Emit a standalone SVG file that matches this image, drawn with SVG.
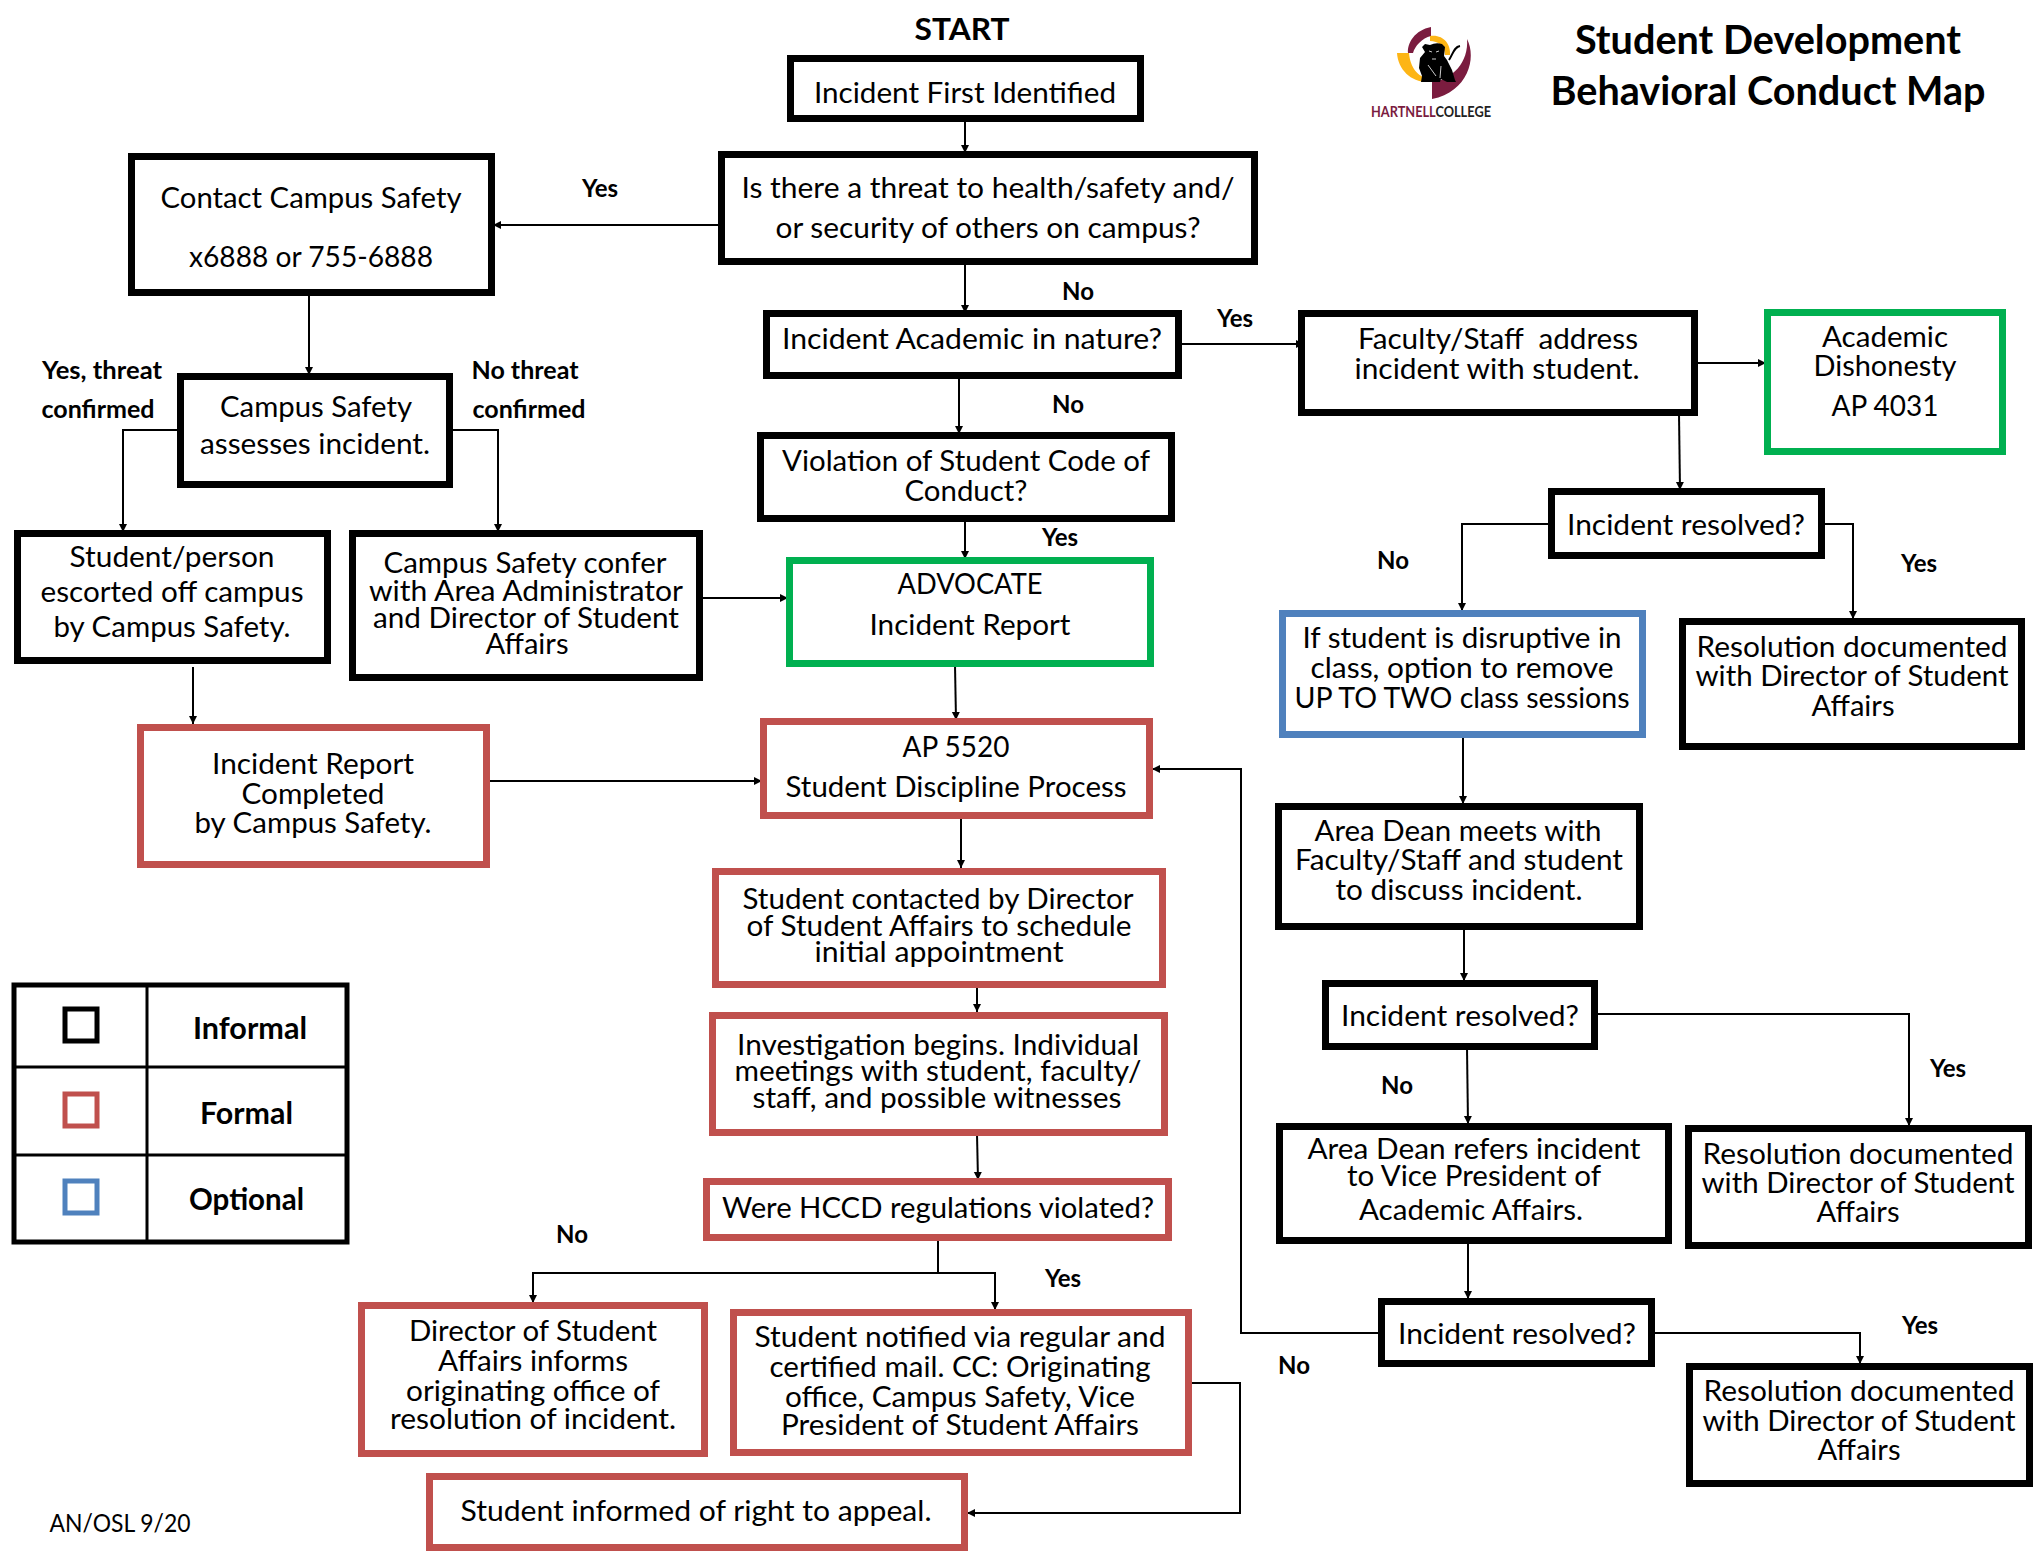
<svg xmlns="http://www.w3.org/2000/svg" width="2039" height="1551" viewBox="0 0 2039 1551">
<style>
text{font-family:"Lato","Carlito","Open Sans",sans-serif;fill:#000;text-anchor:middle}
.n{font-size:29px}
.b{font-size:24px;font-weight:700}
.l{font-size:30px;font-weight:700}
.h{font-size:40px;font-weight:700}
rect.k,rect.r,rect.u,rect.g{fill:#fff;stroke-width:7}
.k{stroke:#000}.r{stroke:#c0504d}.u{stroke:#4f81bd}.g{stroke:#00b050}
.c path{fill:none;stroke:#000;stroke-width:2}
.c path.a{marker-end:url(#ah)}
</style>
<defs><marker id="ah" markerUnits="userSpaceOnUse" markerWidth="9" markerHeight="9" refX="8" refY="4" orient="auto"><path d="M0 0L8 4L0 8Z" fill="#000"/></marker></defs>
<rect width="2039" height="1551" fill="#fff"/>
<g id="connectors" class="c">
<path class="a" d="M965 120V153"/>
<path class="a" d="M718 225H493"/>
<path class="a" d="M965 263V313"/>
<path class="a" d="M309 294V375"/>
<path class="a" d="M1180 344H1304"/>
<path class="a" d="M959 377V434"/>
<path class="a" d="M1696 363H1766"/>
<path class="a" d="M1679 414L1680 490"/>
<path class="a" d="M179 430H123V532"/>
<path class="a" d="M451 430H498V532"/>
<path class="a" d="M965 520V559"/>
<path class="a" d="M701 598H788"/>
<path class="a" d="M955 665L956 720"/>
<path class="a" d="M193 667V724"/>
<path class="a" d="M488 781H762"/>
<path class="a" d="M961 817V868"/>
<path class="a" d="M977 986V1012"/>
<path class="a" d="M977 1134L978 1180"/>
<path d="M938 1239V1273"/>
<path class="a" d="M938 1273H533V1303"/>
<path class="a" d="M938 1273H995V1310"/>
<path class="a" d="M1550 524H1462V611"/>
<path class="a" d="M1823 524H1853V619"/>
<path class="a" d="M1463 736V804"/>
<path class="a" d="M1464 928V981"/>
<path class="a" d="M1467 1048L1468 1124"/>
<path class="a" d="M1596 1014H1909V1126"/>
<path class="a" d="M1468 1242V1299"/>
<path class="a" d="M1380 1333H1241V769H1152"/>
<path class="a" d="M1653 1333H1860V1364"/>
<path class="a" d="M1190 1383H1240V1513H967"/>
</g>
<g id="start"><text class="l" x="962" y="40" textLength="95" lengthAdjust="spacingAndGlyphs">START</text></g>
<g id="title">
<text class="h" x="1768" y="54" textLength="386" lengthAdjust="spacingAndGlyphs">Student Development</text>
<text class="h" x="1768" y="105" textLength="435" lengthAdjust="spacingAndGlyphs">Behavioral Conduct Map</text>
</g>
<g id="logo">
<path fill="#7b1c3f" d="M1431 27C1415 30 1407 43 1408 53H1413C1415 46 1422 38 1431 36Z"/>
<path fill="#fdb515" d="M1430 36C1443 34 1451 44 1450 55L1445 55C1445 46 1438 41 1430 41Z"/>
<path fill="#fdb515" d="M1397 53L1409 53C1410 67 1418 78 1429 78L1429 82C1412 83 1398 70 1397 53Z"/>
<path fill="#7b1c3f" d="M1467 39C1477 58 1468 92 1432 99L1432 82C1452 80 1469 62 1467 39Z"/>
<path fill="#000" d="M1422 47L1425 44L1430 45Q1436 42 1442 44L1445 47L1444 56L1447 60L1452 70L1455 80L1456 82L1447 82L1441 79L1440 82L1421 82L1422 76L1419 68L1420 58L1425 52Z"/>
<path fill="none" stroke="#000" stroke-width="2" d="M1449 60C1453 54 1454 47 1460 46"/>
<path fill="none" stroke="#fff" stroke-width="0.8" d="M1429 51L1432 52M1439 51L1436 52M1432 59H1436M1428 65L1436 76M1441 66L1440 78"/>
<text x="1431" y="117" style="font-size:14.5px;font-weight:700" textLength="120" lengthAdjust="spacingAndGlyphs"><tspan fill="#7b1c3f">HARTNELL</tspan><tspan fill="#222">COLLEGE</tspan></text>
</g>
<g id="n-first"><rect class="k" x="790.5" y="58.5" width="350" height="60"/><text class="n" x="965" y="103" textLength="302" lengthAdjust="spacingAndGlyphs">Incident First Identified</text></g>
<g id="n-threat"><rect class="k" x="721.5" y="154.5" width="533" height="107"/><text class="n" x="988" y="198" textLength="493" lengthAdjust="spacingAndGlyphs">Is there a threat to health/safety and/</text><text class="n" x="988" y="238" textLength="425" lengthAdjust="spacingAndGlyphs">or security of others on campus?</text></g>
<g id="n-contact"><rect class="k" x="131.5" y="156.5" width="360" height="136"/><text class="n" x="311" y="208" textLength="301" lengthAdjust="spacingAndGlyphs">Contact Campus Safety</text><text class="n" x="311" y="267" textLength="244" lengthAdjust="spacingAndGlyphs">x6888 or 755-6888</text></g>
<g id="n-academic"><rect class="k" x="766.5" y="313.5" width="412" height="62"/><text class="n" x="972" y="349" textLength="380" lengthAdjust="spacingAndGlyphs">Incident Academic in nature?</text></g>
<g id="n-faculty"><rect class="k" x="1301.5" y="313.5" width="393" height="99"/><text class="n" x="1498" y="349" textLength="280" lengthAdjust="spacingAndGlyphs" xml:space="preserve">Faculty/Staff  address</text><text class="n" x="1497" y="379" textLength="285" lengthAdjust="spacingAndGlyphs">incident with student.</text></g>
<g id="n-dishonesty"><rect class="g" x="1767.5" y="312.5" width="235" height="139"/><text class="n" x="1885" y="347" textLength="126" lengthAdjust="spacingAndGlyphs">Academic</text><text class="n" x="1885" y="376" textLength="143" lengthAdjust="spacingAndGlyphs">Dishonesty</text><text class="n" x="1885" y="416" textLength="107" lengthAdjust="spacingAndGlyphs">AP 4031</text></g>
<g id="n-assess"><rect class="k" x="180.5" y="376.5" width="269" height="108"/><text class="n" x="316" y="417" textLength="192" lengthAdjust="spacingAndGlyphs">Campus Safety</text><text class="n" x="315" y="454" textLength="230" lengthAdjust="spacingAndGlyphs">assesses incident.</text></g>
<g id="n-violation"><rect class="k" x="760.5" y="435.5" width="411" height="83"/><text class="n" x="966" y="471" textLength="368" lengthAdjust="spacingAndGlyphs">Violation of Student Code of</text><text class="n" x="966" y="501" textLength="123" lengthAdjust="spacingAndGlyphs">Conduct?</text></g>
<g id="n-escort"><rect class="k" x="17.5" y="533.5" width="310" height="127"/><text class="n" x="172" y="567" textLength="205" lengthAdjust="spacingAndGlyphs">Student/person</text><text class="n" x="172" y="602" textLength="263" lengthAdjust="spacingAndGlyphs">escorted off campus</text><text class="n" x="172" y="637" textLength="237" lengthAdjust="spacingAndGlyphs">by Campus Safety.</text></g>
<g id="n-confer"><rect class="k" x="352.5" y="533.5" width="347" height="144"/><text class="n" x="525" y="573" textLength="283" lengthAdjust="spacingAndGlyphs">Campus Safety confer</text><text class="n" x="526" y="601" textLength="314" lengthAdjust="spacingAndGlyphs">with Area Administrator</text><text class="n" x="526" y="628" textLength="306" lengthAdjust="spacingAndGlyphs">and Director of Student</text><text class="n" x="527" y="654" textLength="83" lengthAdjust="spacingAndGlyphs">Affairs</text></g>
<g id="n-advocate"><rect class="g" x="789.5" y="560.5" width="361" height="103"/><text class="n" x="970" y="594" textLength="145" lengthAdjust="spacingAndGlyphs">ADVOCATE</text><text class="n" x="970" y="635" textLength="201" lengthAdjust="spacingAndGlyphs">Incident Report</text></g>
<g id="n-resolved1"><rect class="k" x="1551.5" y="491.5" width="270" height="64"/><text class="n" x="1686" y="535" textLength="238" lengthAdjust="spacingAndGlyphs">Incident resolved?</text></g>
<g id="n-remove"><rect class="u" x="1282.5" y="613.5" width="360" height="121"/><text class="n" x="1462" y="648" textLength="319" lengthAdjust="spacingAndGlyphs">If student is disruptive in</text><text class="n" x="1462" y="678" textLength="303" lengthAdjust="spacingAndGlyphs">class, option to remove</text><text class="n" x="1462" y="708" textLength="335" lengthAdjust="spacingAndGlyphs">UP TO TWO class sessions</text></g>
<g id="n-doc1"><rect class="k" x="1682.5" y="621.5" width="339" height="125"/><text class="n" x="1852" y="657" textLength="311" lengthAdjust="spacingAndGlyphs">Resolution documented</text><text class="n" x="1852" y="686" textLength="313" lengthAdjust="spacingAndGlyphs">with Director of Student</text><text class="n" x="1853" y="716" textLength="83" lengthAdjust="spacingAndGlyphs">Affairs</text></g>
<g id="n-report"><rect class="r" x="140.5" y="727.5" width="346" height="137"/><text class="n" x="313" y="774" textLength="202" lengthAdjust="spacingAndGlyphs">Incident Report</text><text class="n" x="313" y="804" textLength="143" lengthAdjust="spacingAndGlyphs">Completed</text><text class="n" x="313" y="833" textLength="237" lengthAdjust="spacingAndGlyphs">by Campus Safety.</text></g>
<g id="n-ap5520"><rect class="r" x="763.5" y="721.5" width="386" height="94"/><text class="n" x="956" y="757" textLength="107" lengthAdjust="spacingAndGlyphs">AP 5520</text><text class="n" x="956" y="797" textLength="341" lengthAdjust="spacingAndGlyphs">Student Discipline Process</text></g>
<g id="n-dean"><rect class="k" x="1278.5" y="806.5" width="361" height="120"/><text class="n" x="1458" y="841" textLength="287" lengthAdjust="spacingAndGlyphs">Area Dean meets with</text><text class="n" x="1459" y="870" textLength="328" lengthAdjust="spacingAndGlyphs">Faculty/Staff and student</text><text class="n" x="1459" y="900" textLength="247" lengthAdjust="spacingAndGlyphs">to discuss incident.</text></g>
<g id="n-contacted"><rect class="r" x="715.5" y="871.5" width="447" height="113"/><text class="n" x="938" y="909" textLength="391" lengthAdjust="spacingAndGlyphs">Student contacted by Director</text><text class="n" x="939" y="936" textLength="385" lengthAdjust="spacingAndGlyphs">of Student Affairs to schedule</text><text class="n" x="939" y="962" textLength="249" lengthAdjust="spacingAndGlyphs">initial appointment</text></g>
<g id="n-investigation"><rect class="r" x="712.5" y="1015.5" width="452" height="117"/><text class="n" x="938" y="1055" textLength="402" lengthAdjust="spacingAndGlyphs">Investigation begins. Individual</text><text class="n" x="938" y="1081" textLength="407" lengthAdjust="spacingAndGlyphs">meetings with student, faculty/</text><text class="n" x="937" y="1108" textLength="369" lengthAdjust="spacingAndGlyphs">staff, and possible witnesses</text></g>
<g id="n-resolved2"><rect class="k" x="1325.5" y="983.5" width="269" height="63"/><text class="n" x="1460" y="1026" textLength="238" lengthAdjust="spacingAndGlyphs">Incident resolved?</text></g>
<g id="n-refers"><rect class="k" x="1279.5" y="1126.5" width="389" height="114"/><text class="n" x="1474" y="1159" textLength="333" lengthAdjust="spacingAndGlyphs">Area Dean refers incident</text><text class="n" x="1474" y="1186" textLength="254" lengthAdjust="spacingAndGlyphs">to Vice President of</text><text class="n" x="1471" y="1220" textLength="224" lengthAdjust="spacingAndGlyphs">Academic Affairs.</text></g>
<g id="n-doc2"><rect class="k" x="1688.5" y="1128.5" width="340" height="117"/><text class="n" x="1858" y="1164" textLength="311" lengthAdjust="spacingAndGlyphs">Resolution documented</text><text class="n" x="1858" y="1193" textLength="313" lengthAdjust="spacingAndGlyphs">with Director of Student</text><text class="n" x="1858" y="1222" textLength="83" lengthAdjust="spacingAndGlyphs">Affairs</text></g>
<g id="n-hccd"><rect class="r" x="706.5" y="1181.5" width="462" height="56"/><text class="n" x="938" y="1218" textLength="432" lengthAdjust="spacingAndGlyphs">Were HCCD regulations violated?</text></g>
<g id="n-director"><rect class="r" x="361.5" y="1305.5" width="343" height="148"/><text class="n" x="533" y="1341" textLength="248" lengthAdjust="spacingAndGlyphs">Director of Student</text><text class="n" x="533" y="1371" textLength="190" lengthAdjust="spacingAndGlyphs">Affairs informs</text><text class="n" x="533" y="1401" textLength="254" lengthAdjust="spacingAndGlyphs">originating office of</text><text class="n" x="533" y="1429" textLength="286" lengthAdjust="spacingAndGlyphs">resolution of incident.</text></g>
<g id="n-notified"><rect class="r" x="733.5" y="1312.5" width="455" height="140"/><text class="n" x="960" y="1347" textLength="411" lengthAdjust="spacingAndGlyphs">Student notified via regular and</text><text class="n" x="960" y="1377" textLength="381" lengthAdjust="spacingAndGlyphs">certified mail. CC: Originating</text><text class="n" x="960" y="1407" textLength="350" lengthAdjust="spacingAndGlyphs">office, Campus Safety, Vice</text><text class="n" x="960" y="1435" textLength="358" lengthAdjust="spacingAndGlyphs">President of Student Affairs</text></g>
<g id="n-resolved3"><rect class="k" x="1381.5" y="1301.5" width="270" height="62"/><text class="n" x="1517" y="1344" textLength="238" lengthAdjust="spacingAndGlyphs">Incident resolved?</text></g>
<g id="n-doc3"><rect class="k" x="1689.5" y="1366.5" width="340" height="117"/><text class="n" x="1859" y="1401" textLength="311" lengthAdjust="spacingAndGlyphs">Resolution documented</text><text class="n" x="1859" y="1431" textLength="313" lengthAdjust="spacingAndGlyphs">with Director of Student</text><text class="n" x="1859" y="1460" textLength="83" lengthAdjust="spacingAndGlyphs">Affairs</text></g>
<g id="n-appeal"><rect class="r" x="429.5" y="1476.5" width="535" height="71"/><text class="n" x="696" y="1521" textLength="471" lengthAdjust="spacingAndGlyphs">Student informed of right to appeal.</text></g>
<g id="labels">
<text class="b" x="600" y="197">Yes</text>
<text class="b" x="1078" y="300">No</text>
<text class="b" x="1235" y="327">Yes</text>
<text class="b" x="102" y="379" textLength="120" lengthAdjust="spacingAndGlyphs">Yes, threat</text>
<text class="b" x="98" y="418" textLength="113" lengthAdjust="spacingAndGlyphs">confirmed</text>
<text class="b" x="525" y="379" textLength="107" lengthAdjust="spacingAndGlyphs">No threat</text>
<text class="b" x="529" y="418" textLength="113" lengthAdjust="spacingAndGlyphs">confirmed</text>
<text class="b" x="1068" y="413">No</text>
<text class="b" x="1060" y="546">Yes</text>
<text class="b" x="1393" y="569">No</text>
<text class="b" x="1919" y="572">Yes</text>
<text class="b" x="1397" y="1094">No</text>
<text class="b" x="1948" y="1077">Yes</text>
<text class="b" x="572" y="1243">No</text>
<text class="b" x="1063" y="1287">Yes</text>
<text class="b" x="1920" y="1334">Yes</text>
<text class="b" x="1294" y="1374">No</text>
<text x="120" y="1532" style="font-size:25px" textLength="141" lengthAdjust="spacingAndGlyphs">AN/OSL 9/20</text>
</g>
<g id="legend">
<rect x="14" y="985" width="333" height="257" fill="#fff" stroke="#000" stroke-width="5"/>
<path d="M147 984V1242M14 1067H347M14 1155H347" fill="none" stroke="#000" stroke-width="3"/>
<rect class="k" x="65" y="1009" width="32" height="32" style="fill:#fff;stroke-width:5"/>
<rect class="r" x="65" y="1094" width="32" height="32" style="fill:#fff;stroke-width:5"/>
<rect class="u" x="65" y="1181" width="32" height="32" style="fill:#fff;stroke-width:5"/>
<text class="l" x="250" y="1039" textLength="114" lengthAdjust="spacingAndGlyphs">Informal</text>
<text class="l" x="246.5" y="1124" textLength="93" lengthAdjust="spacingAndGlyphs">Formal</text>
<text class="l" x="246.5" y="1210" textLength="115" lengthAdjust="spacingAndGlyphs">Optional</text>
</g>
</svg>
